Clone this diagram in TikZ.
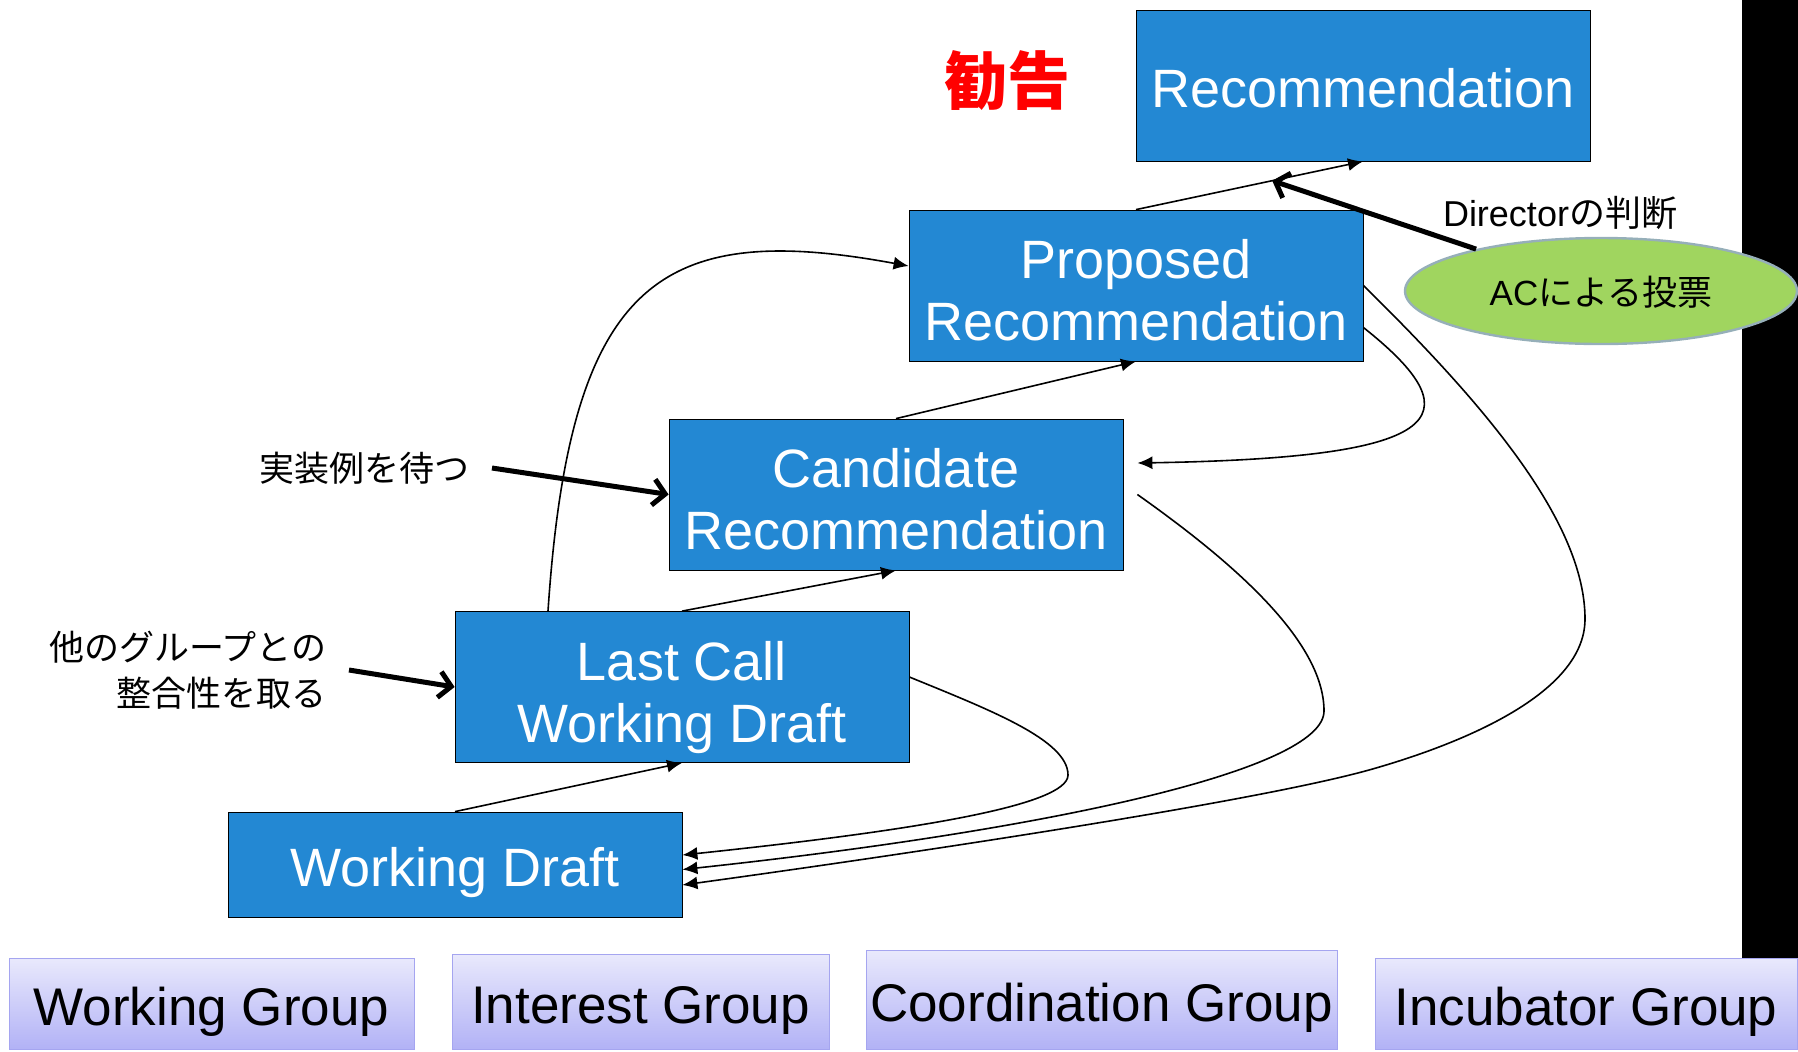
\documentclass[tikz,border=0pt]{standalone}
\usepackage{fontspec}
\setmainfont{Liberation Sans}
\newfontfamily\jp{Noto Sans CJK JP}
\usetikzlibrary{calc}
\usetikzlibrary{arrows.meta}
\usetikzlibrary{shapes.geometric}

\definecolor{stageblue}{RGB}{35,136,211}
\definecolor{votegreen}{RGB}{160,213,95}
\definecolor{voteedge}{RGB}{150,175,185}
\definecolor{grouptop}{RGB}{233,233,252}
\definecolor{groupbottom}{RGB}{178,178,246}
\definecolor{groupedge}{RGB}{165,165,240}

\tikzset{
  stage/.style = {draw, fill = stageblue, text = white, align = center,
    minimum width = 227pt, minimum height = 75.5pt, inner sep = 0pt,
    font = \fontsize{27}{31}\selectfont},
  oneline/.style = {text height = 22pt, text depth = 0pt},
  twoline/.style = {text height = 55pt, text depth = 0pt},
  group/.style = {draw = groupedge, top color = grouptop,
    bottom color = groupbottom, inner sep = 0pt, oneline,
    font = \fontsize{26.5}{30}\selectfont},
  note/.style = {inner sep = 0pt, font = \jp\fontsize{17.5}{23}\selectfont},
  flow/.style = {line width = 0.8pt, -{Latex[length = 7.5pt, width = 6.5pt]}},
  pointer/.style = {line width = 2.5pt,
    -{Straight Barb[length = 6pt, width = 13pt]}}
}

\begin{document}
\begin{tikzpicture}[x = 0.5pt, y = -0.5pt]
  \useasboundingbox (0, 0) rectangle (1798, 1051);

  \coordinate (recpos) at (1363, 85.5);
  \coordinate (proppos) at (1136, 285.5);
  \coordinate (candpos) at (896, 494.5);
  \coordinate (lcpos) at (682, 687);
  \coordinate (wdpos) at (455, 864.5);

  \fill (1742, 0) rectangle (1798, 958);

  \node[stage, oneline] (rec) at (recpos) {Recommendation};
  \node[stage, twoline] (prop) at (proppos) {Proposed\\Recommendation};
  \node[stage, twoline] (cand) at (candpos) {Candidate\\Recommendation};
  \node[stage, twoline] (lcwd) at (lcpos) {Last Call\\Working Draft};
  \node[stage, oneline, minimum height = 52.5pt] (wd) at (wdpos) {Working Draft};

  \node[text = red, inner sep = 0pt, font = \jp\bfseries\fontsize{31.5}{36}\selectfont]
  (kankoku) at (1007, 80) {勧告};

  \node[ellipse, draw = voteedge, line width = 1.2pt, fill = votegreen,
  minimum width = 196pt, minimum height = 53pt, inner sep = 0pt, text depth = 0pt,
  font = \fontsize{17.5}{21}\selectfont] (vote) at (1601, 291) {AC{\jp による投票}};
  \node[inner sep = 0pt, font = \fontsize{18}{21}\selectfont] (director)
  at (1560, 213) {Director{\jp の判断}};

  \node[note, anchor = east] (wait) at (470, 468) {実装例を待つ};
  \node[note, anchor = east, align = right] (consist) at (327, 670)
  {他のグループとの\\整合性を取る};

  \draw[flow] (wd.north) -- (lcwd.south);
  \draw[flow] (lcwd.north) -- (cand.south);
  \draw[flow] (cand.north) -- (prop.south);
  \draw[flow] (prop.north) -- coordinate[pos = 0.6] (judge) (rec.south);

  \draw[flow] ([xshift = -67pt]lcwd.north) .. controls (570, 280) and (660, 220)
  .. ([yshift = 9.75pt]prop.west);
  \draw[flow] ([yshift = -21pt]prop.east) .. controls (1480, 420) and (1440, 458)
  .. ([xshift = 7pt, yshift = 15.75pt]cand.east);
  \draw[flow] (prop.east) .. controls (1480, 400) and (1585, 520) .. (1585, 619)
  .. controls (1585, 700) and (1440, 750) .. (1369, 770)
  .. controls (1250, 803) and (900, 855) .. ([yshift = -10.25pt]wd.east);
  \draw[flow] ([xshift = 7pt]cand.east) .. controls (1230, 560) and (1324, 640)
  .. (1324, 711) .. controls (1324, 770) and (1050, 830)
  .. ([yshift = -2.5pt]wd.east);
  \draw[flow] ([yshift = 5pt]lcwd.east) .. controls (990, 710) and (1068, 740)
  .. (1068, 775) .. controls (1068, 805) and (920, 830)
  .. ([yshift = 4.75pt]wd.east);

  \draw[pointer] ([xshift = 11pt]wait.east) -- (cand.west);
  \draw[pointer] ([xshift = 11pt]consist.east) -- (lcwd.west);
  \draw[pointer] (vote) -- (judge);

  \node[group, minimum width = 202.5pt, minimum height = 45.5pt] (wg)
  at (211.5, 1003.5) {Working Group};
  \node[group, minimum width = 188.5pt, minimum height = 47.5pt] (ig)
  at (640.5, 1001.5) {Interest Group};
  \node[group, minimum width = 235.5pt, minimum height = 49.5pt] (cg)
  at (1101.5, 999.5) {Coordination Group};
  \node[group, minimum width = 211pt, minimum height = 45.5pt] (incg)
  at (1586, 1003.5) {Incubator Group};
\end{tikzpicture}
\end{document}
